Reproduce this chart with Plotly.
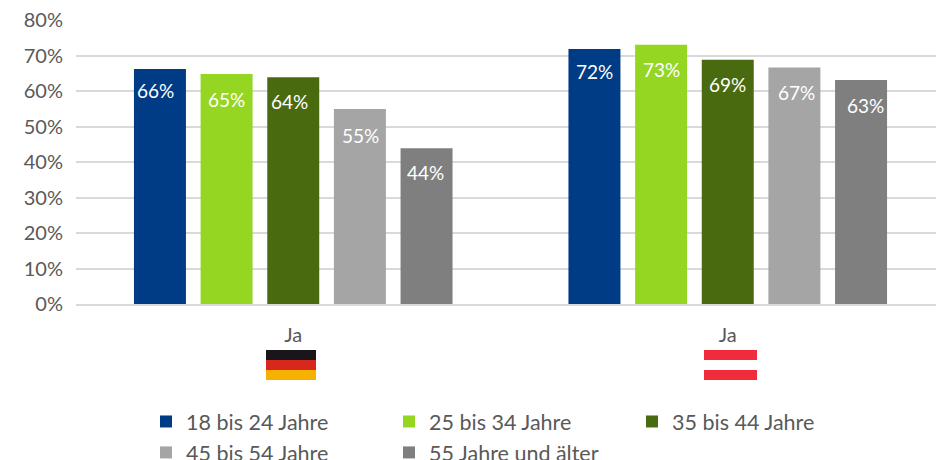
import plotly.graph_objects as go

groups = [0, 1]
group_labels = ["Ja", "Ja"]
series_names = ["18 bis 24 Jahre", "25 bis 34 Jahre", "35 bis 44 Jahre", "45 bis 54 Jahre", "55 Jahre und älter"]
series_de = [66.2, 64.8, 63.9, 54.9, 43.9]
series_at = [71.8, 73.0, 68.8, 66.6, 63.1]
series_labels_de = ["66%", "65%", "64%", "55%", "44%"]
series_labels_at = ["72%", "73%", "69%", "67%", "63%"]
colors = ["#003B85", "#95D623", "#4A6A10", "#A5A5A5", "#7F7F7F"]
FONT = "Lato, Carlito, Calibri, sans-serif"

W, H = 936, 460
FIG_H = 480  # the legend needs extra canvas to lay out its second row; the window still shows 460
L = 76
T, B = 20, 304
GROUP_PX = 434.5
BARGAP, GROUPGAP = 0.233, 0.22
pitch = (1 - BARGAP) / len(series_names)
nudge_de = [-4, 0, -4, 1, -1]
nudge_at = [0, 0, 0, 2, 4]
drop_de = [22, 26, 24, 26, 24]
drop_at = [22, 25, 25, 25, 25]

fig = go.Figure()
annotations = []
for i, name in enumerate(series_names):
    fig.add_bar(
        x=groups, y=[series_de[i], series_at[i]], name=name,
        marker=dict(color=colors[i], line=dict(width=0)),
        hoverinfo="skip",
    )
    for g, vals, labels, nudge, drop in ((0, series_de, series_labels_de, nudge_de, drop_de),
                                         (1, series_at, series_labels_at, nudge_at, drop_at)):
        annotations.append(dict(
            x=g + (i - 2) * pitch, y=vals[i], xref="x", yref="y",
            text=labels[i], showarrow=False, yanchor="middle", xanchor="center",
            yshift=-drop[i], xshift=nudge[i],
            font=dict(color="white", size=19, family=FONT),
        ))

flag_de = [("#1A1518", 0), ("#D8271C", 1), ("#F5B000", 2)]
flag_at = [("#F02B3C", 0), ("#F02B3C", 2)]
shapes = []
def band(x0, x1, idx, color):
    y0 = 350 + idx * 10
    return dict(type="rect", xref="paper", yref="paper",
                x0=(x0 - L) / (W - L), x1=(x1 - L) / (W - L),
                y0=(B - y0) / (B - T), y1=(B - y0 - 10) / (B - T),
                fillcolor=color, line=dict(width=0), layer="above")
for c, i in flag_de:
    shapes.append(band(266, 316, i, c))
for c, i in flag_at:
    shapes.append(band(704, 757, i, c))

fig.update_layout(
    width=W, height=FIG_H, autosize=False,
    margin=dict(l=L, r=0, t=T, b=FIG_H - B, pad=0, autoexpand=False),
    paper_bgcolor="white", plot_bgcolor="white",
    barmode="group", bargap=BARGAP, bargroupgap=GROUPGAP,
    font=dict(family=FONT, color="#595959", size=20),
    shapes=shapes, annotations=annotations,
    xaxis=dict(tickmode="array", tickvals=groups, ticktext=group_labels,
               range=[-0.5, -0.5 + (W - L) / GROUP_PX],
               showgrid=False, zeroline=False, showline=True, linecolor="#D9D9D9", linewidth=2,
               ticks="", tickfont=dict(size=20, color="#595959", family=FONT), ticklabelstandoff=12),
    yaxis=dict(range=[0, 80], dtick=10, ticksuffix="%", showgrid=True, gridcolor="#D9D9D9", gridwidth=2,
               zeroline=False, ticks="", tickfont=dict(size=20, color="#595959", family=FONT), ticklabelstandoff=12),
    legend=dict(orientation="h", x=(146 - L) / (W - L), xref="paper", xanchor="left",
                y=(B - 401) / (B - T), yanchor="top", entrywidth=198, entrywidthmode="pixels",
                traceorder="normal", font=dict(size=21.5, color="#595959", family=FONT),
                itemwidth=30, tracegroupgap=0),
)
fig.write_html("out.html", config={"displayModeBar": False},
               post_script="document.body.style.margin='0';document.documentElement.style.overflow='hidden';")
